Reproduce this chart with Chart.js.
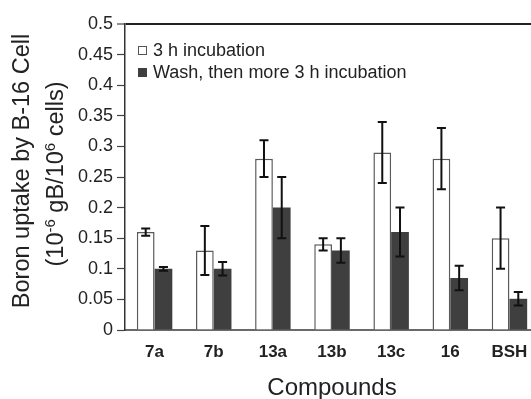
<!DOCTYPE html>
<html>
<head>
<meta charset="utf-8">
<script src="https://cdn.jsdelivr.net/npm/chart.js@4/dist/chart.umd.min.js"></script>
<style>
  html, body { margin: 0; padding: 0; background: #fff; overflow: hidden; }
  #wrap { width: 531px; height: 399px; overflow: hidden; position: relative; }
  canvas { display: block; }
</style>
</head>
<body>
<div id="wrap"><canvas id="c" width="545" height="405"></canvas></div>
<script>
// ---- data ----
const categories = ['7a', '7b', '13a', '13b', '13c', '16', 'BSH'];
const seriesNames = ['3 h incubation', 'Wash, then more 3 h incubation'];
const incubation = [0.16, 0.13, 0.28, 0.14, 0.29, 0.28, 0.15];
const incubationErr = [0.006, 0.04, 0.03, 0.01, 0.05, 0.05, 0.05];
const washed = [0.10, 0.10, 0.20, 0.13, 0.16, 0.085, 0.051];
const washedErr = [0.003, 0.011, 0.05, 0.02, 0.04, 0.02, 0.011];
const yTickLabels = ['0', '0.05', '0.1', '0.15', '0.2', '0.25', '0.3', '0.35', '0.4', '0.45', '0.5'];
const yTitleLine1 = 'Boron uptake by B-16 Cell';
const yTitleLine2 = [['(10', 0], ['-6', 1], [' gB/10', 0], ['6', 1], [' cells)', 0]];
const xTitle = 'Compounds';

const FONT = "'Liberation Sans', Arial, Helvetica, sans-serif";
const TEXT = '#222';
const DARK = '#3f3f3f';

const errorBars = {
  id: 'errorBars',
  afterDatasetsDraw(chart) {
    const ctx = chart.ctx;
    const y = chart.scales.y;
    chart.data.datasets.forEach((ds, di) => {
      const meta = chart.getDatasetMeta(di);
      meta.data.forEach((bar, i) => {
        const v = ds.data[i], e = ds.errors[i];
        const yt = y.getPixelForValue(v + e);
        const yb = y.getPixelForValue(v - e);
        const x = bar.x;
        ctx.save();
        ctx.strokeStyle = '#111';
        ctx.lineWidth = 2;
        ctx.beginPath();
        ctx.moveTo(x, yt); ctx.lineTo(x, yb);
        ctx.moveTo(x - 4.5, yt); ctx.lineTo(x + 4.5, yt);
        ctx.moveTo(x - 4.5, yb); ctx.lineTo(x + 4.5, yb);
        ctx.stroke();
        ctx.restore();
      });
    });
  }
};

const insideLegend = {
  id: 'insideLegend',
  afterDraw(chart) {
    const ctx = chart.ctx;
    const a = chart.chartArea;
    ctx.save();
    chart.data.datasets.forEach((ds, i) => {
      const bx = a.left + 13, by = a.top + 22 + i * 22;
      ctx.fillStyle = ds.backgroundColor;
      ctx.fillRect(bx, by, 9, 9);
      ctx.strokeStyle = i === 0 ? '#555' : DARK;
      ctx.lineWidth = 1;
      ctx.strokeRect(bx + 0.5, by + 0.5, 8, 8);
      ctx.fillStyle = TEXT;
      ctx.font = '18px ' + FONT;
      ctx.textBaseline = 'alphabetic';
      ctx.textAlign = 'left';
      ctx.fillText(ds.label, bx + 15, by + 10);
    });
    ctx.restore();
  }
};

const yTitle = {
  id: 'yTitle',
  afterDraw(chart) {
    const ctx = chart.ctx;
    ctx.save();
    ctx.fillStyle = TEXT;
    ctx.textBaseline = 'alphabetic';
    // line 1
    ctx.translate(29, 171);
    ctx.rotate(-Math.PI / 2);
    ctx.textAlign = 'center';
    ctx.font = '23.5px ' + FONT;
    ctx.fillText(yTitleLine1, 0, 0);
    ctx.restore();
    // line 2 with superscripts
    ctx.save();
    ctx.fillStyle = TEXT;
    ctx.textBaseline = 'alphabetic';
    ctx.translate(63, 174);
    ctx.rotate(-Math.PI / 2);
    ctx.textAlign = 'left';
    const mainF = '23.5px ' + FONT, supF = '15px ' + FONT;
    let total = 0;
    yTitleLine2.forEach(([t, s]) => { ctx.font = s ? supF : mainF; total += ctx.measureText(t).width; });
    let x = -total / 2;
    yTitleLine2.forEach(([t, s]) => {
      ctx.font = s ? supF : mainF;
      ctx.fillText(t, x, s ? -8 : 0);
      x += ctx.measureText(t).width;
    });
    ctx.restore();
  }
};

new Chart(document.getElementById('c'), {
  type: 'bar',
  data: {
    labels: categories,
    datasets: [
      { label: seriesNames[0], data: incubation, errors: incubationErr,
        backgroundColor: '#ffffff', borderColor: '#5a5a5a', borderWidth: 1.5, borderSkipped: 'bottom' },
      { label: seriesNames[1], data: washed, errors: washedErr,
        backgroundColor: DARK, borderColor: DARK, borderWidth: 0 }
    ]
  },
  options: {
    responsive: false,
    animation: false,
    devicePixelRatio: 1,
    layout: { padding: { left: 0, right: 6, top: 24, bottom: 0 } },
    categoryPercentage: 0.6,
    barPercentage: 1.0,
    plugins: { legend: { display: false }, tooltip: { enabled: false } },
    scales: {
      x: {
        grid: { display: false },
        border: { display: true, color: '#6a6a6a', width: 2 },
        ticks: { color: TEXT, font: { family: FONT, size: 17, weight: 'bold' }, padding: 4, maxRotation: 0 },
        title: { display: true, text: xTitle, color: TEXT, font: { family: FONT, size: 24 }, padding: { top: 0, bottom: 2 } },
        afterFit(s) { s.height = 75; }
      },
      y: {
        min: 0, max: 0.5,
        ticks: {
          stepSize: 0.05, color: TEXT, font: { family: FONT, size: 18 }, padding: 4,
          callback: (v, i) => yTickLabels[i]
        },
        grid: {
          drawOnChartArea: true,
          color: (c) => (c.index === yTickLabels.length - 1 ? '#222' : 'rgba(0,0,0,0)'),
          lineWidth: (c) => (c.index === yTickLabels.length - 1 ? 2 : 1),
          tickColor: '#444', tickLength: 8, tickWidth: 1.2
        },
        border: { display: true, color: '#333', width: 1.5 },
        afterFit(s) { s.width = 125; }
      }
    }
  },
  plugins: [errorBars, insideLegend, yTitle]
});
</script>
</body>
</html>
